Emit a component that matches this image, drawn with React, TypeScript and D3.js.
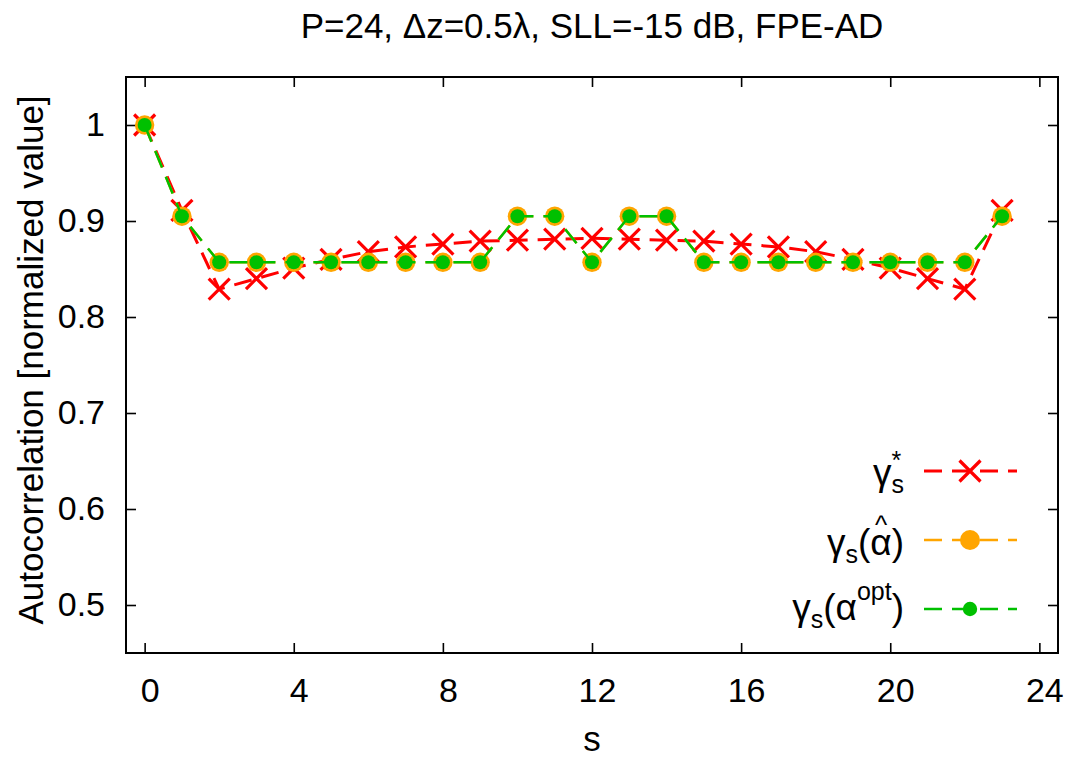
import React, { useEffect, useRef } from 'react';
import * as d3 from 'd3';

// lag index s
const S = [0, 1, 2, 3, 4, 5, 6, 7, 8, 9, 10, 11, 12, 13, 14, 15, 16, 17, 18, 19, 20, 21, 22, 23];

// gamma_s^*  (red crosses)
const GAMMA_STAR = [1.0, 0.911, 0.829, 0.840, 0.851, 0.860, 0.868, 0.873, 0.876, 0.879, 0.880, 0.881,
  0.882, 0.881, 0.880, 0.879, 0.876, 0.873, 0.868, 0.860, 0.851, 0.840, 0.829, 0.911];

// gamma_s(alpha hat)  (orange circles)
const GAMMA_HAT = [1.0, 0.905, 0.857, 0.857, 0.857, 0.857, 0.857, 0.857, 0.857, 0.857, 0.905, 0.905,
  0.857, 0.905, 0.905, 0.857, 0.857, 0.857, 0.857, 0.857, 0.857, 0.857, 0.857, 0.905];

// gamma_s(alpha opt)  (green dots)
const GAMMA_OPT = [1.0, 0.905, 0.857, 0.857, 0.857, 0.857, 0.857, 0.857, 0.857, 0.857, 0.905, 0.905,
  0.857, 0.905, 0.905, 0.857, 0.857, 0.857, 0.857, 0.857, 0.857, 0.857, 0.857, 0.905];

const X_TICKS = [0, 4, 8, 12, 16, 20, 24];
const Y_TICKS = [0.5, 0.6, 0.7, 0.8, 0.9, 1];
const Y_TICK_LABELS = ['0.5', '0.6', '0.7', '0.8', '0.9', '1'];

const TITLE = 'P=24, \u0394z=0.5\u03bb, SLL=-15 dB, FPE-AD';
const X_LABEL = 's';
const Y_LABEL = 'Autocorrelation [normalized value]';

const FONT = "'Liberation Sans', Arial, Helvetica, sans-serif";
const RED = '#ff0000';
const ORANGE = '#ffa500';
const GREEN = '#00c000';

const App = () => {
  const svgRef = useRef<SVGSVGElement>(null);

  useEffect(() => {
    if (!svgRef.current) return;
    const svg = d3.select(svgRef.current);
    svg.selectAll('*').remove();

    const left = 126, right = 1058, top = 77, bottom = 653;

    const x = d3.scaleLinear().domain([-0.5, 24.5]).range([left, right]);
    const y = d3.scaleLinear().domain([0.45, 1.05]).range([bottom, top]);

    svg.append('rect').attr('width', 1080).attr('height', 762).attr('fill', '#fff');

    // axes with inward ticks, mirrored on top / right
    const bottomAxis = svg.append('g')
      .attr('transform', `translate(0,${bottom})`)
      .call(d3.axisBottom(x).tickValues(X_TICKS).tickSizeInner(-10).tickSizeOuter(0).tickPadding(25));
    bottomAxis.selectAll('.tick text').attr('dx', 5);
    const leftAxis = svg.append('g')
      .attr('transform', `translate(${left},0)`)
      .call(d3.axisLeft(y).tickValues(Y_TICKS).tickSizeInner(-10).tickSizeOuter(0).tickPadding(21)
        .tickFormat((d, i) => Y_TICK_LABELS[i]));
    svg.append('g')
      .attr('transform', `translate(0,${top})`)
      .call(d3.axisTop(x).tickValues(X_TICKS).tickSizeInner(-10).tickSizeOuter(0).tickFormat(() => ''));
    svg.append('g')
      .attr('transform', `translate(${right},0)`)
      .call(d3.axisRight(y).tickValues(Y_TICKS).tickSizeInner(-10).tickSizeOuter(0).tickFormat(() => ''));

    svg.selectAll('.domain').remove();
    svg.selectAll('.tick line').attr('stroke', '#000').attr('stroke-width', 1.6);
    [bottomAxis, leftAxis].forEach(a => a.selectAll('text')
      .attr('font-family', FONT).attr('font-size', 34).attr('fill', '#000'));

    svg.append('rect')
      .attr('x', left).attr('y', top)
      .attr('width', right - left).attr('height', bottom - top)
      .attr('fill', 'none').attr('stroke', '#000').attr('stroke-width', 2);

    // title and axis labels
    svg.append('text')
      .attr('x', (left + right) / 2).attr('y', 38)
      .attr('text-anchor', 'middle')
      .attr('font-family', FONT).attr('font-size', 35)
      .text(TITLE);
    svg.append('text')
      .attr('x', (left + right) / 2).attr('y', 751)
      .attr('text-anchor', 'middle')
      .attr('font-family', FONT).attr('font-size', 35)
      .text(X_LABEL);
    svg.append('text')
      .attr('transform', `translate(43,360) rotate(-90)`)
      .attr('text-anchor', 'middle')
      .attr('font-family', FONT).attr('font-size', 35)
      .text(Y_LABEL);

    const line = d3.line<number>().x((d, i) => x(S[i])).y(d => y(d));
    const cross = 'M-10.5,-10.5L10.5,10.5M-10.5,10.5L10.5,-10.5';

    const series = [
      { values: GAMMA_STAR, color: RED, width: 3, kind: 'x', r: 0 },
      { values: GAMMA_HAT, color: ORANGE, width: 2.5, kind: 'o', r: 9.7 },
      { values: GAMMA_OPT, color: GREEN, width: 2.5, kind: 'o', r: 7 },
    ];

    const plot = svg.append('g');
    series.forEach(sr => {
      plot.append('path')
        .datum(sr.values)
        .attr('d', line)
        .attr('fill', 'none')
        .attr('stroke', sr.color)
        .attr('stroke-width', sr.width)
        .attr('stroke-dasharray', '18,10');
      if (sr.kind === 'x') {
        plot.selectAll(null).data(sr.values).enter().append('path')
          .attr('d', cross)
          .attr('transform', (d, i) => `translate(${x(S[i])},${y(d)})`)
          .attr('stroke', sr.color).attr('stroke-width', 3.2).attr('fill', 'none');
      } else {
        plot.selectAll(null).data(sr.values).enter().append('circle')
          .attr('cx', (d, i) => x(S[i])).attr('cy', d => y(d))
          .attr('r', sr.r).attr('fill', sr.color);
      }
    });

    // legend
    type Piece = { t: string; fs: number; dy: number; over?: 'left' | 'center' };
    const MAIN = 37, SMALL = 25;
    const gam: Piece[] = [{ t: '\u03b3', fs: MAIN, dy: 0 }, { t: 's', fs: SMALL, dy: 8 }];
    const legendLabels: { pieces: Piece[]; rowY: number; base: number }[] = [
      { pieces: [...gam, { t: '*', fs: SMALL, dy: -16, over: 'left' }], rowY: 471, base: 485 },
      {
        pieces: [...gam, { t: '(', fs: MAIN, dy: 0 }, { t: '\u03b1', fs: MAIN, dy: 0 },
          { t: '^', fs: 26, dy: -21, over: 'center' }, { t: ')', fs: MAIN, dy: 0 }],
        rowY: 540, base: 555,
      },
      {
        pieces: [...gam, { t: '(', fs: MAIN, dy: 0 }, { t: '\u03b1', fs: MAIN, dy: 0 },
          { t: 'opt', fs: SMALL, dy: -20 }, { t: ')', fs: MAIN, dy: 0 }],
        rowY: 609, base: 620,
      },
    ];

    const legend = svg.append('g');
    legendLabels.forEach((entry, k) => {
      const g = legend.append('g');
      let cursor = 0;
      let prevX = 0, prevW = 0;
      entry.pieces.forEach(p => {
        const t = g.append('text')
          .attr('font-family', FONT).attr('font-size', p.fs)
          .attr('y', entry.base + p.dy)
          .text(p.t);
        const w = (t.node() as SVGTextElement).getComputedTextLength();
        if (p.over === 'left') {
          t.attr('x', prevX);
        } else if (p.over === 'center') {
          t.attr('x', prevX + prevW / 2 - w / 2);
        } else {
          t.attr('x', cursor);
          prevX = cursor; prevW = w;
          cursor += w;
        }
      });
      g.attr('transform', `translate(${904 - cursor},0)`);

      const sr = series[k];
      legend.append('line')
        .attr('x1', 924).attr('x2', 1017)
        .attr('y1', entry.rowY).attr('y2', entry.rowY)
        .attr('stroke', sr.color).attr('stroke-width', sr.width)
        .attr('stroke-dasharray', '18,10');
      if (sr.kind === 'x') {
        legend.append('path').attr('d', cross)
          .attr('transform', `translate(970,${entry.rowY})`)
          .attr('stroke', sr.color).attr('stroke-width', 3.2).attr('fill', 'none');
      } else {
        legend.append('circle').attr('cx', 970).attr('cy', entry.rowY)
          .attr('r', k === 1 ? 10 : 7.2).attr('fill', sr.color);
      }
    });
  }, []);

  return (
    <svg
      ref={svgRef}
      width={1080}
      height={762}
      style={{ position: 'absolute', left: 0, top: 0, display: 'block' }}
    />
  );
};

export default App;
